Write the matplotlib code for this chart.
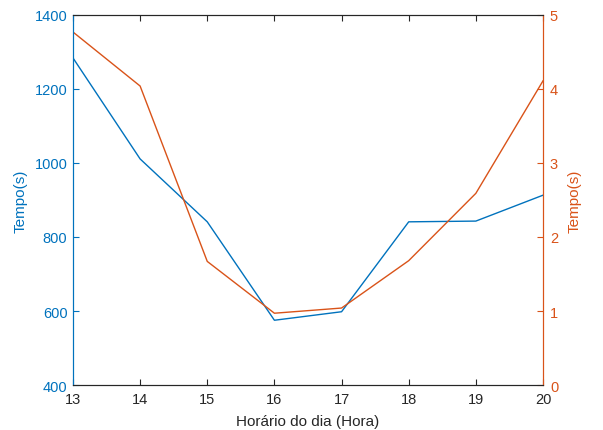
import matplotlib
matplotlib.use("Agg")
import matplotlib.pyplot as plt

plt.rcParams['font.family'] = ['Liberation Sans', 'DejaVu Sans']

hours = [13, 14, 15, 16, 17, 18, 19, 20]
tempo_left = [1284, 1011, 841, 575, 598, 841, 843, 913]
tempo_right = [4.77, 4.04, 1.67, 0.97, 1.04, 1.68, 2.59, 4.11]

blue = '#0072BD'
orange = '#D95319'
dark = '#262626'

fig = plt.figure(figsize=(6.03, 4.31), dpi=100)
ax = fig.add_axes([0.121, 0.1044, 0.7795, 0.8585])
ax.plot(hours, tempo_left, color=blue, lw=1.0)
ax.set_xlim(13, 20)
ax.set_ylim(400, 1400)
ax.set_xticks(range(13, 21))
ax.set_yticks(range(400, 1401, 200))
ax.set_xlabel('Horário do dia (Hora)', color=dark, fontsize=11, labelpad=6)
ax.set_ylabel('Tempo(s)', color=blue, fontsize=11, labelpad=5)

ax2 = ax.twinx()
ax2.plot(hours, tempo_right, color=orange, lw=1.0)
ax2.set_ylim(0, 5)
ax2.set_yticks(range(0, 6))
ax2.set_ylabel('Tempo(s)', color=orange, fontsize=11, labelpad=7)

for a in (ax, ax2):
    a.spines['top'].set_color(dark)
    a.spines['bottom'].set_color(dark)
    a.spines['left'].set_color(blue)
    a.spines['right'].set_color(orange)
    for s in a.spines.values():
        s.set_linewidth(0.8)

ax.tick_params(axis='x', direction='in', colors=dark, labelsize=10.5, top=True, length=4, width=0.8, pad=5)
ax.tick_params(axis='y', direction='in', colors=blue, labelsize=10.5, length=4, width=0.8, pad=4)
ax2.tick_params(axis='y', direction='in', colors=orange, labelsize=10.5, length=4, width=0.8, pad=5)

fig.savefig('out.png', dpi=100)
